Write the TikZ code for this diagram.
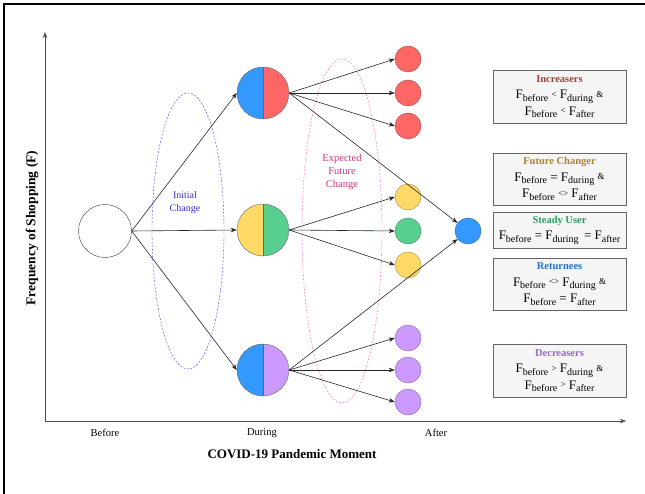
\documentclass[tikz,border=0pt]{standalone}
\usepackage{fontspec}
\setmainfont{Liberation Serif}
\usetikzlibrary{arrows.meta}

\definecolor{cblue}{HTML}{3399FF}
\definecolor{cred}{HTML}{FF6666}
\definecolor{cyellow}{HTML}{FFD966}
\definecolor{cgreen}{HTML}{57D08F}
\definecolor{cpurple}{HTML}{CC99FF}
\definecolor{boxgrey}{HTML}{F5F5F5}
\definecolor{tinc}{HTML}{B03A3A}
\definecolor{tfut}{HTML}{A8852F}
\definecolor{tste}{HTML}{2E9B5A}
\definecolor{tret}{HTML}{2670C0}
\definecolor{tdec}{HTML}{9A66CC}
\definecolor{initc}{HTML}{3232D2}
\definecolor{expc}{HTML}{CC3380}
\definecolor{pinkdash}{HTML}{FF5CAD}
\definecolor{bluedash}{HTML}{4040F0}

\newcommand{\Fs}[1]{F{\fontsize{10}{10}\selectfont\raisebox{-2.5pt}{#1}}}
\newcommand{\rel}[1]{\raisebox{1.5pt}{\fontsize{9}{9}\selectfont #1}}
\newcommand{\ttlfont}{\fontsize{10.5}{12}\selectfont\bfseries}

\tikzset{
	half/.style 2 args={circle, minimum size=52pt, inner sep=0pt, draw=black!60,
		path picture={
			\fill[#1] (path picture bounding box.south west) rectangle (path picture bounding box.north);
			\fill[#2] (path picture bounding box.south) rectangle (path picture bounding box.north east);
			\draw[black!60] (path picture bounding box.south) -- (path picture bounding box.north);
		}},
	dot/.style={circle, minimum size=26pt, inner sep=0pt, draw=#1!65!black, fill=#1},
	arr/.style={-{Stealth[length=6pt,width=4.5pt]}, black!85, line width=0.6pt},
	infobox/.style={draw=black!60, fill=boxgrey, minimum width=133pt, inner sep=2pt,
		align=center, font=\fontsize{13}{16.5}\selectfont}
}

\begin{document}
\begin{tikzpicture}[x=1pt,y=-1pt]

	\useasboundingbox (0,0) rectangle (645,494);
	\draw[line width=2pt] (4,494) -- (4,4) -- (645,4);

	% axes
	\coordinate (o) at (45,421);
	\coordinate (ytop) at (45,32);
	\coordinate (xend) at (626,421);
	\draw[arr, black!70] (o) -- (ytop);
	\draw[arr, black!70] (o) -- (xend);
	\node[font=\fontsize{10.5}{12}\selectfont] (lbef) at (105,433) {Before};
	\node[font=\fontsize{10.5}{12}\selectfont] (ldur) at (262,433) {During};
	\node[font=\fontsize{10.5}{12}\selectfont] (laft) at (436,433) {After};
	\node[font=\fontsize{13}{15}\selectfont\bfseries] (xlbl) at (292,454) {COVID-19 Pandemic Moment};
	\node[font=\fontsize{13.5}{15}\selectfont\bfseries, rotate=90] (ylbl) at (32,228) {Frequency of Shopping (F)};

	% dashed groups
	\draw[bluedash, dash pattern=on 2pt off 1.5pt] (188,231) ellipse [x radius=36pt, y radius=138pt];
	\draw[pinkdash, dash pattern=on 2pt off 1.5pt] (342,231) ellipse [x radius=40pt, y radius=172pt];
	\node[initc, align=center, font=\fontsize{10}{13}\selectfont] (initlbl) at (185,203) {Initial\\Change};
	\node[expc, align=center, font=\fontsize{10.5}{13}\selectfont] (explbl) at (342,172) {Expected\\Future\\Change};

	\node[circle, draw=black!80, minimum size=53pt, inner sep=0pt] (bef) at (105,231) {};

	\node[half={cblue}{cred}] (dA) at (263,93) {};
	\node[half={cyellow}{cgreen}] (dB) at (263,230) {};
	\node[half={cblue}{cpurple}] (dC) at (263,370) {};

	\node[dot=cred] (r1) at (408,59) {};
	\node[dot=cred] (r2) at (408,93) {};
	\node[dot=cred] (r3) at (408,126) {};
	\node[dot=cyellow] (y1) at (408,197) {};
	\node[dot=cgreen] (g1) at (408,231) {};
	\node[dot=cyellow] (y2) at (408,265) {};
	\node[dot=cpurple] (p1) at (408,338) {};
	\node[dot=cpurple] (p2) at (408,370) {};
	\node[dot=cpurple] (p3) at (408,402) {};
	\node[dot=cblue] (blu) at (468,231) {};

	\draw[arr] (bef.east) -- (dA.west);
	\draw[arr] (bef.east) -- (dB.west);
	\draw[arr] (bef.east) -- (dC.west);

	\draw[arr] (dA.east) -- (r1.west);
	\draw[arr] (dA.east) -- (r2.west);
	\draw[arr] (dA.east) -- (r3.west);
	\draw[arr] (dA.east) -- (blu);

	\draw[arr] (dB.east) -- (y1.west);
	\draw[arr] (dB.east) -- (g1.west);
	\draw[arr] (dB.east) -- (y2.west);

	\draw[arr] (dC.east) -- (p1.west);
	\draw[arr] (dC.east) -- (p2.west);
	\draw[arr] (dC.east) -- (p3.west);
	\draw[arr] (dC.east) -- (blu);

	% legend boxes
	\node[infobox, minimum height=53pt] (inc) at (559.5,96.5)
		{{\ttlfont\color{tinc}Increasers}\\ \Fs{before} \rel{<} \Fs{during} \rel{\&}\\ \Fs{before} \rel{<} \Fs{after}};
	\node[infobox, minimum height=52pt] (fut) at (559.5,179)
		{{\ttlfont\color{tfut}Future Changer}\\ \Fs{before} = \Fs{during} \rel{\&}\\ \Fs{before} \rel{<>} \Fs{after}};
	\node[infobox, minimum height=36pt] (ste) at (559.5,230)
		{{\ttlfont\color{tste}Steady User}\\ \Fs{before} = \Fs{during}\, = \Fs{after}};
	\node[infobox, minimum height=52pt] (ret) at (559.5,284)
		{{\ttlfont\color{tret}Returnees}\\ \Fs{before} \rel{<>} \Fs{during} \rel{\&}\\ \Fs{before} = \Fs{after}};
	\node[infobox, minimum height=53pt] (dec) at (559.5,370.5)
		{{\ttlfont\color{tdec}Decreasers}\\ \Fs{before} \rel{>} \Fs{during} \rel{\&}\\ \Fs{before} \rel{>} \Fs{after}};

\end{tikzpicture}
\end{document}
